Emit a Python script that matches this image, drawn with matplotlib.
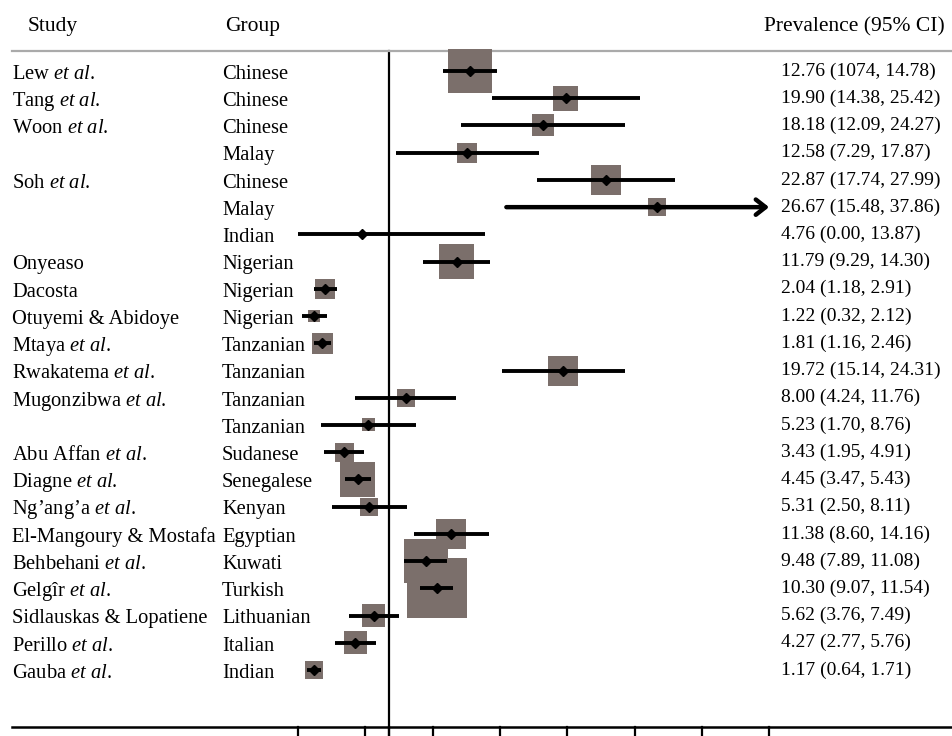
# =========================================================
# Forest plot - prevalence by study / group
# =========================================================

import numpy as np
import matplotlib
matplotlib.use("Agg")
import matplotlib.pyplot as plt

plt.rcParams["font.family"] = ["Liberation Serif", "DejaVu Serif"]
plt.rcParams["mathtext.fontset"] = "custom"
plt.rcParams["mathtext.rm"] = "Liberation Serif"
plt.rcParams["mathtext.it"] = "Liberation Serif:italic"

# =========================================================
# Data
# =========================================================

studies = [
    r"Lew $\mathit{et\ al}$.", r"Tang $\mathit{et\ al}$.", r"Woon $\mathit{et\ al}$.", "",
    r"Soh $\mathit{et\ al}$.", "", "",
    "Onyeaso", "Dacosta", "Otuyemi & Abidoye", r"Mtaya $\mathit{et\ al}$.",
    r"Rwakatema $\mathit{et\ al}$.", r"Mugonzibwa $\mathit{et\ al}$.", "",
    r"Abu Affan $\mathit{et\ al}$.", r"Diagne $\mathit{et\ al}$.", r"Ng’ang’a $\mathit{et\ al}$.",
    "El-Mangoury & Mostafa", r"Behbehani $\mathit{et\ al}$.", r"Gelgîr $\mathit{et\ al}$.",
    "Sidlauskas & Lopatiene", r"Perillo $\mathit{et\ al}$.", r"Gauba $\mathit{et\ al}$.",
]

groups = [
    "Chinese", "Chinese", "Chinese", "Malay",
    "Chinese", "Malay", "Indian",
    "Nigerian", "Nigerian", "Nigerian", "Tanzanian",
    "Tanzanian", "Tanzanian", "Tanzanian",
    "Sudanese", "Senegalese", "Kenyan",
    "Egyptian", "Kuwati", "Turkish",
    "Lithuanian", "Italian", "Indian",
]

prevalence = [12.76, 19.90, 18.18, 12.58, 22.87, 26.67, 4.76, 11.79, 2.04, 1.22,
              1.81, 19.72, 8.00, 5.23, 3.43, 4.45, 5.31, 11.38, 9.48, 10.30,
              5.62, 4.27, 1.17]

lower = [10.74, 14.38, 12.09, 7.29, 17.74, 15.48, 0.00, 9.29, 1.18, 0.32,
         1.16, 15.14, 4.24, 1.70, 1.95, 3.47, 2.50, 8.60, 7.89, 9.07,
         3.76, 2.77, 0.64]

upper = [14.78, 25.42, 24.27, 17.87, 27.99, 37.86, 13.87, 14.30, 2.91, 2.12,
         2.46, 24.31, 11.76, 8.76, 4.91, 5.43, 8.11, 14.16, 11.08, 11.54,
         7.49, 5.76, 1.71]

# text printed in the right column (first one as printed in the source)
ci_labels = [
    "12.76 (1074, 14.78)", "19.90 (14.38, 25.42)", "18.18 (12.09, 24.27)",
    "12.58 (7.29, 17.87)", "22.87 (17.74, 27.99)", "26.67 (15.48, 37.86)",
    "4.76 (0.00, 13.87)", "11.79 (9.29, 14.30)", "2.04 (1.18, 2.91)",
    "1.22 (0.32, 2.12)", "1.81 (1.16, 2.46)", "19.72 (15.14, 24.31)",
    "8.00 (4.24, 11.76)", "5.23 (1.70, 8.76)", "3.43 (1.95, 4.91)",
    "4.45 (3.47, 5.43)", "5.31 (2.50, 8.11)", "11.38 (8.60, 14.16)",
    "9.48 (7.89, 11.08)", "10.30 (9.07, 11.54)", "5.62 (3.76, 7.49)",
    "4.27 (2.77, 5.76)", "1.17 (0.64, 1.71)",
]

# relative study weights (%), shown as box area
weight = [10.75, 3.47, 2.69, 2.22, 5.0, 1.8, 0.05, 6.8, 2.22, 0.8,
          2.45, 5.0, 1.8, 0.94, 2.0, 6.8, 1.8, 5.0, 10.75, 20.0,
          2.94, 2.94, 1.8]

pooled = 6.76
tick_values = [0, 5, pooled, 10, 15, 20, 25, 30, 35]

# =========================================================
# Layout
# =========================================================

W, H = 952, 736
x0_px, px_per_unit = 298, 13.46
row0_px, row_px = 71, 27.23
x_max = 35

fig = plt.figure(figsize=(W / 100, H / 100), dpi=100)
ax = fig.add_axes([0, 0, 1, 1])
ax.set_xlim(-x0_px / px_per_unit, (W - x0_px) / px_per_unit)
ax.set_ylim((H - row0_px) / row_px, -row0_px / row_px)
ax.axis("off")

rows = np.arange(len(prevalence))
box_color = "#7b6f6b"
fs_left = 14.8
fs_right = 14
fs_head = 15.5

def px_to_row(py):
    return (py - row0_px) / row_px

# header
ytr = ax.get_yaxis_transform()
ax.text(28 / W, px_to_row(27), "Study", transform=ytr, fontsize=fs_head, va="center")
ax.text(225 / W, px_to_row(27), "Group", transform=ytr, fontsize=fs_head, va="center")
ax.text(945 / W, px_to_row(27), "Prevalence (95% CI)", transform=ytr,
        fontsize=fs_head, va="center", ha="right")
ax.plot([12 / W, 1], [px_to_row(51)] * 2, transform=ytr, color="#aaaaaa", lw=1.6)

# boxes (area ~ weight)
sides_pt = 13.42 * np.sqrt(weight) * 0.72
ax.scatter(prevalence, rows, s=sides_pt ** 2, marker="s", color=box_color,
           edgecolors="none", zorder=2)

# confidence intervals
for r, lo, hi in zip(rows, lower, upper):
    if hi > x_max:
        ax.annotate("", xy=(x_max, r), xytext=(lo, r),
                    arrowprops=dict(arrowstyle="->,head_length=0.7,head_width=0.55",
                                    lw=3.2, color="black", shrinkA=0, shrinkB=0),
                    zorder=3)
    else:
        ax.plot([lo, hi], [r, r], color="black", lw=2.8, solid_capstyle="butt", zorder=3)

ax.plot(prevalence, rows, "D", color="black", ms=5, zorder=4)

# reference line and bottom axis
ax.plot([pooled, pooled], [px_to_row(51), px_to_row(H)], color="black", lw=1.6, zorder=1)
ax.plot([12 / W, 1], [px_to_row(727)] * 2, transform=ytr, color="black", lw=1.8)
for t in tick_values:
    ax.plot([t, t], [px_to_row(727), px_to_row(H)], color="black", lw=1.6)

# row labels
for r, s, g, c in zip(rows, studies, groups, ci_labels):
    ax.text(12 / W, r + 0.12, s, transform=ytr, fontsize=fs_left, va="center")
    ax.text(222 / W, r + 0.12, g, transform=ytr, fontsize=fs_left, va="center")
    ax.text(781 / W, r, c, transform=ytr, fontsize=fs_right, va="center")

fig.savefig("out.png", dpi=100)
plt.close(fig)
